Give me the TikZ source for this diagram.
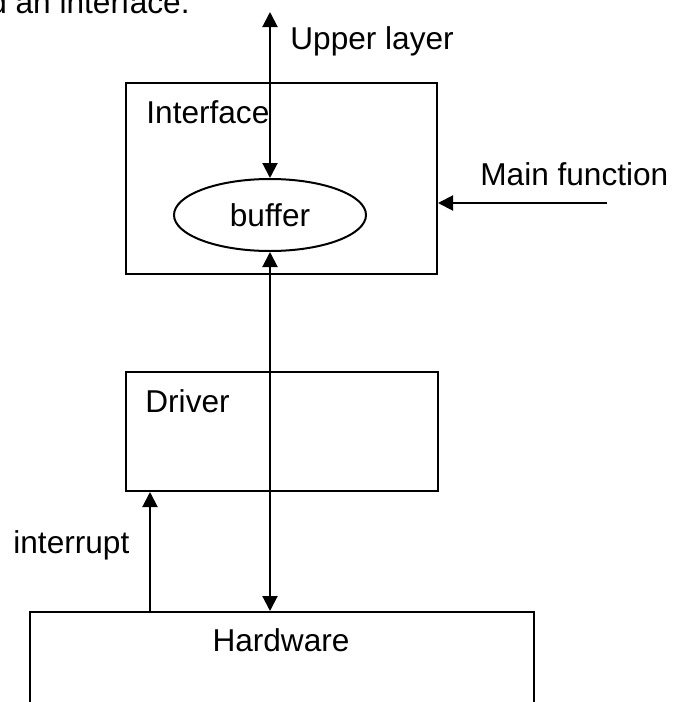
\documentclass[tikz,border=0pt]{standalone}
\usepackage{fontspec}
\setmainfont{Liberation Sans}
\usetikzlibrary{arrows.meta,shapes.geometric}
\tikzset{
  layerbox/.style={draw,line width=1pt,inner sep=0pt},
  lbl/.style={inner sep=0pt,anchor=base west},
  tip/.style={line width=1pt,-{Triangle[length=7.5pt,width=7.5pt]}},
  twotip/.style={line width=1pt,{Triangle[length=7.5pt,width=7.5pt]}-{Triangle[length=7.5pt,width=7.5pt]}}
}
\begin{document}
\begin{tikzpicture}[x=0.5pt,y=-0.5pt,font=\fontsize{15.8}{19}\selectfont]
	\useasboundingbox (0,0) rectangle (673,702);
	\clip (0,0) rectangle (673,702);
	\node[layerbox,minimum width=155.5pt,minimum height=95.5pt] (iface) at (281.5,178.5) {};
	\node[layerbox,minimum width=156pt,minimum height=59.5pt] (drv) at (282,431.5) {};
	\node[layerbox,minimum width=252pt,minimum height=100pt] (hw) at (282,712) {};
	\node[draw,line width=1pt,ellipse,minimum width=96pt,minimum height=36pt,inner sep=0pt] (buf) at (270,215) {buffer};
	\node[inner sep=0pt,anchor=base east] (cut) at (190,13) {d an interface.};
	\node[lbl] (up) at (290,49) {Upper layer};
	\node[lbl] (ifl) at (146,123) {Interface};
	\node[lbl] (mfl) at (480,185) {Main function};
	\node[lbl] (drl) at (145,412) {Driver};
	\node[lbl] (intl) at (13,553) {interrupt};
	\node[inner sep=0pt,anchor=base] (hwl) at (281,651) {Hardware};
	\coordinate (top) at (270,12);
	\coordinate (mf) at (607,203);
	\coordinate (intr) at (150,612);
	\draw[twotip] (top) -- (buf.north);
	\draw[tip] (mf) -- (mf -| iface.east);
	\draw[twotip] (buf.south) -- (buf.south |- hw.north);
	\draw[tip] (intr) -- (intr |- drv.south);
\end{tikzpicture}
\end{document}
